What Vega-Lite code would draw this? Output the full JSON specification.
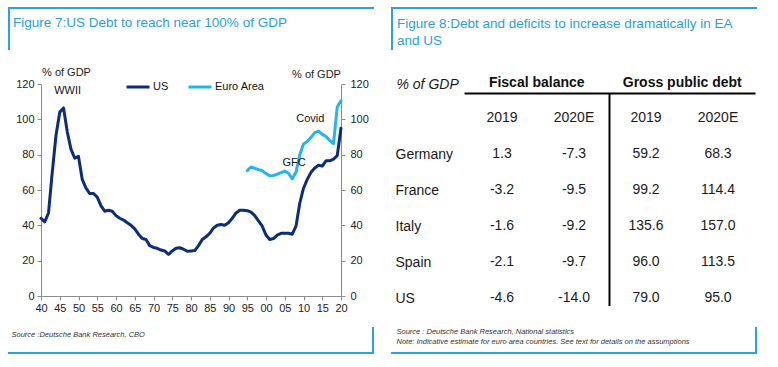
{
  "$schema": "https://vega.github.io/schema/vega-lite/v6.json",
  "padding": {"left": 7, "top": 6, "right": 0, "bottom": 0},
  "spacing": 15,
  "config": {
    "font": "Liberation Sans",
    "view": {"stroke": null},
    "locale": {"number": {"decimal": ".", "thousands": ",", "grouping": [3], "currency": ["$", ""], "minus": "-"}}
  },
  "datasets": {
    "debt": [
      {"year": 1940, "series": "US", "value": 44}, {"year": 1941, "series": "US", "value": 42}, {"year": 1942, "series": "US", "value": 47}, {"year": 1943, "series": "US", "value": 70}, {"year": 1944, "series": "US", "value": 91}, {"year": 1945, "series": "US", "value": 104}, {"year": 1946, "series": "US", "value": 106.5}, {"year": 1947, "series": "US", "value": 93}, {"year": 1948, "series": "US", "value": 83}, {"year": 1949, "series": "US", "value": 78}, {"year": 1950, "series": "US", "value": 79}, {"year": 1951, "series": "US", "value": 66}, {"year": 1952, "series": "US", "value": 61}, {"year": 1953, "series": "US", "value": 58}, {"year": 1954, "series": "US", "value": 58}, {"year": 1955, "series": "US", "value": 56}, {"year": 1956, "series": "US", "value": 51}, {"year": 1957, "series": "US", "value": 48}, {"year": 1958, "series": "US", "value": 48.5}, {"year": 1959, "series": "US", "value": 48}, {"year": 1960, "series": "US", "value": 45.5}, {"year": 1961, "series": "US", "value": 44}, {"year": 1962, "series": "US", "value": 43}, {"year": 1963, "series": "US", "value": 41.5}, {"year": 1964, "series": "US", "value": 40}, {"year": 1965, "series": "US", "value": 38}, {"year": 1966, "series": "US", "value": 35}, {"year": 1967, "series": "US", "value": 32.5}, {"year": 1968, "series": "US", "value": 32}, {"year": 1969, "series": "US", "value": 28.5}, {"year": 1970, "series": "US", "value": 27.5}, {"year": 1971, "series": "US", "value": 27}, {"year": 1972, "series": "US", "value": 26}, {"year": 1973, "series": "US", "value": 25.5}, {"year": 1974, "series": "US", "value": 23.5}, {"year": 1975, "series": "US", "value": 25.5}, {"year": 1976, "series": "US", "value": 27}, {"year": 1977, "series": "US", "value": 27.3}, {"year": 1978, "series": "US", "value": 26.5}, {"year": 1979, "series": "US", "value": 25.3}, {"year": 1980, "series": "US", "value": 25.5}, {"year": 1981, "series": "US", "value": 25.7}, {"year": 1982, "series": "US", "value": 28.5}, {"year": 1983, "series": "US", "value": 32}, {"year": 1984, "series": "US", "value": 33.5}, {"year": 1985, "series": "US", "value": 35.5}, {"year": 1986, "series": "US", "value": 38.5}, {"year": 1987, "series": "US", "value": 40}, {"year": 1988, "series": "US", "value": 40.5}, {"year": 1989, "series": "US", "value": 40}, {"year": 1990, "series": "US", "value": 41.5}, {"year": 1991, "series": "US", "value": 44}, {"year": 1992, "series": "US", "value": 47}, {"year": 1993, "series": "US", "value": 48.5}, {"year": 1994, "series": "US", "value": 48.5}, {"year": 1995, "series": "US", "value": 48.3}, {"year": 1996, "series": "US", "value": 47.5}, {"year": 1997, "series": "US", "value": 45.5}, {"year": 1998, "series": "US", "value": 42.5}, {"year": 1999, "series": "US", "value": 39.5}, {"year": 2000, "series": "US", "value": 34.5}, {"year": 2001, "series": "US", "value": 32}, {"year": 2002, "series": "US", "value": 32.5}, {"year": 2003, "series": "US", "value": 34.5}, {"year": 2004, "series": "US", "value": 35.5}, {"year": 2005, "series": "US", "value": 35.5}, {"year": 2006, "series": "US", "value": 35.5}, {"year": 2007, "series": "US", "value": 35}, {"year": 2008, "series": "US", "value": 39.5}, {"year": 2009, "series": "US", "value": 52.5}, {"year": 2010, "series": "US", "value": 61}, {"year": 2011, "series": "US", "value": 66}, {"year": 2012, "series": "US", "value": 70}, {"year": 2013, "series": "US", "value": 72.5}, {"year": 2014, "series": "US", "value": 74}, {"year": 2015, "series": "US", "value": 73.5}, {"year": 2016, "series": "US", "value": 76.5}, {"year": 2017, "series": "US", "value": 76.5}, {"year": 2018, "series": "US", "value": 77.5}, {"year": 2019, "series": "US", "value": 79.5}, {"year": 2020, "series": "US", "value": 95},
      {"year": 1995, "series": "Euro Area", "value": 71}, {"year": 1996, "series": "Euro Area", "value": 73}, {"year": 1997, "series": "Euro Area", "value": 72.3}, {"year": 1998, "series": "Euro Area", "value": 71.5}, {"year": 1999, "series": "Euro Area", "value": 71}, {"year": 2000, "series": "Euro Area", "value": 69.3}, {"year": 2001, "series": "Euro Area", "value": 68}, {"year": 2002, "series": "Euro Area", "value": 68.2}, {"year": 2003, "series": "Euro Area", "value": 69}, {"year": 2004, "series": "Euro Area", "value": 69.8}, {"year": 2005, "series": "Euro Area", "value": 70.7}, {"year": 2006, "series": "Euro Area", "value": 69.5}, {"year": 2007, "series": "Euro Area", "value": 66.3}, {"year": 2008, "series": "Euro Area", "value": 70}, {"year": 2009, "series": "Euro Area", "value": 80}, {"year": 2010, "series": "Euro Area", "value": 86}, {"year": 2011, "series": "Euro Area", "value": 87.5}, {"year": 2012, "series": "Euro Area", "value": 89.8}, {"year": 2013, "series": "Euro Area", "value": 92.5}, {"year": 2014, "series": "Euro Area", "value": 93.3}, {"year": 2015, "series": "Euro Area", "value": 91.5}, {"year": 2016, "series": "Euro Area", "value": 90.3}, {"year": 2017, "series": "Euro Area", "value": 88}, {"year": 2018, "series": "Euro Area", "value": 86.3}, {"year": 2019, "series": "Euro Area", "value": 107}, {"year": 2020, "series": "Euro Area", "value": 110.5}
    ],
    "notes": [
      {"label": "WWII", "year": 1947.1, "value": 116},
      {"label": "GFC", "year": 2007.5, "value": 75.5},
      {"label": "Covid", "year": 2011.8, "value": 100}
    ],
    "table": [
      {"country": "Germany", "col": "FB 2019", "value": 1.3}, {"country": "Germany", "col": "FB 2020E", "value": -7.3}, {"country": "Germany", "col": "GD 2019", "value": 59.2}, {"country": "Germany", "col": "GD 2020E", "value": 68.3},
      {"country": "France", "col": "FB 2019", "value": -3.2}, {"country": "France", "col": "FB 2020E", "value": -9.5}, {"country": "France", "col": "GD 2019", "value": 99.2}, {"country": "France", "col": "GD 2020E", "value": 114.4},
      {"country": "Italy", "col": "FB 2019", "value": -1.6}, {"country": "Italy", "col": "FB 2020E", "value": -9.2}, {"country": "Italy", "col": "GD 2019", "value": 135.6}, {"country": "Italy", "col": "GD 2020E", "value": 157.0},
      {"country": "Spain", "col": "FB 2019", "value": -2.1}, {"country": "Spain", "col": "FB 2020E", "value": -9.7}, {"country": "Spain", "col": "GD 2019", "value": 96.0}, {"country": "Spain", "col": "GD 2020E", "value": 113.5},
      {"country": "US", "col": "FB 2019", "value": -4.6}, {"country": "US", "col": "FB 2020E", "value": -14.0}, {"country": "US", "col": "GD 2019", "value": 79.0}, {"country": "US", "col": "GD 2020E", "value": 95.0}
    ],
    "cols": [
      {"col": "FB 2019", "label": "2019"}, {"col": "FB 2020E", "label": "2020E"}, {"col": "GD 2019", "label": "2019"}, {"col": "GD 2020E", "label": "2020E"}
    ],
    "groups": [
      {"group": "Fiscal balance"}, {"group": "Gross public debt"}
    ]
  },
  "hconcat": [
    {
      "width": 300,
      "height": 212,
      "title": {"text": "Figure 7:US Debt to reach near 100% of GDP", "anchor": "start", "frame": "group", "dx": -28, "offset": -34, "baseline": "alphabetic", "fontSize": 13.5, "fontWeight": "normal", "color": "#2a9fd8"},
      "layer": [
        {
          "data": {"name": "debt"},
          "mark": {"type": "line", "strokeWidth": 3, "strokeJoin": "round", "strokeCap": "round"},
          "encoding": {
            "x": {"field": "year", "type": "quantitative", "scale": {"domain": [1940, 2020], "nice": false, "zero": false},
              "axis": {"values": [1940, 1945, 1950, 1955, 1960, 1965, 1970, 1975, 1980, 1985, 1990, 1995, 2000, 2005, 2010, 2015, 2020], "format": "d", "labelExpr": "slice(datum.label, 2)", "labelFlush": false, "labelOverlap": false, "grid": false, "domainColor": "#8c8c8c", "tickColor": "#8c8c8c", "tickSize": 4, "labelPadding": 2, "labelFontSize": 11, "labelColor": "#222222", "labelAngle": 0,
                "title": "Source :Deutsche Bank Research, CBO", "titleFontStyle": "italic", "titleFontSize": 7.5, "titleFontWeight": "normal", "titleColor": "#333333", "titleAlign": "left", "titleAnchor": "start", "titleX": -30, "titleY": 38, "titleBaseline": "middle"}},
            "y": {"field": "value", "type": "quantitative", "scale": {"domain": [0, 120], "nice": false},
              "axis": {"orient": "left", "values": [0, 20, 40, 60, 80, 100, 120], "grid": false, "domainColor": "#8c8c8c", "tickColor": "#8c8c8c", "tickSize": 4, "labelPadding": 3, "labelFontSize": 11, "labelColor": "#222222",
                "title": "% of GDP", "titleAngle": 0, "titleX": 25, "titleY": -9, "titleAlign": "center", "titleBaseline": "alphabetic", "titleFontSize": 11, "titleFontWeight": "normal", "titleColor": "#222222"}},
            "color": {"field": "series", "type": "nominal", "scale": {"domain": ["US", "Euro Area"], "range": ["#0c2d79", "#22b5ee"]},
              "legend": {"orient": "none", "legendX": 84, "legendY": -10, "direction": "horizontal", "title": null, "symbolType": "stroke", "symbolStrokeWidth": 3, "symbolSize": 529, "labelFontSize": 11, "labelColor": "#111111", "labelOffset": 2, "columnPadding": 13}}
          }
        },
        {
          "data": {"name": "notes"},
          "mark": {"type": "text", "fontSize": 11, "color": "#111111", "align": "center", "baseline": "middle"},
          "encoding": {
            "x": {"field": "year", "type": "quantitative", "scale": {"domain": [1940, 2020], "nice": false, "zero": false},
              "axis": {"values": [1940, 1945, 1950, 1955, 1960, 1965, 1970, 1975, 1980, 1985, 1990, 1995, 2000, 2005, 2010, 2015, 2020], "format": "d", "labelExpr": "slice(datum.label, 2)", "labelFlush": false, "labelOverlap": false, "grid": false, "domainColor": "#8c8c8c", "tickColor": "#8c8c8c", "tickSize": 4, "labelPadding": 2, "labelFontSize": 11, "labelColor": "#222222", "labelAngle": 0,
                "title": "Source :Deutsche Bank Research, CBO", "titleFontStyle": "italic", "titleFontSize": 7.5, "titleFontWeight": "normal", "titleColor": "#333333", "titleAlign": "left", "titleAnchor": "start", "titleX": -30, "titleY": 38, "titleBaseline": "middle"}},
            "y": {"field": "value", "type": "quantitative", "scale": {"domain": [0, 120], "nice": false},
              "axis": {"orient": "right", "values": [0, 20, 40, 60, 80, 100, 120], "grid": false, "domainColor": "#8c8c8c", "tickColor": "#8c8c8c", "tickSize": 4, "labelPadding": 5, "labelFontSize": 11, "labelColor": "#222222",
                "title": "% of GDP", "titleAngle": 0, "titleX": -25, "titleY": -7, "titleAlign": "center", "titleBaseline": "alphabetic", "titleFontSize": 11, "titleFontWeight": "normal", "titleColor": "#222222"}},
            "text": {"field": "label"}
          }
        },
        {"data": {"values": [{}]}, "mark": {"type": "rule", "color": "#2aa3dc", "strokeWidth": 2, "strokeCap": "square"}, "encoding": {"x": {"value": -32}, "x2": {"value": 332}, "y": {"value": -76}}},
        {"data": {"values": [{}]}, "mark": {"type": "rule", "color": "#2aa3dc", "strokeWidth": 2, "strokeCap": "square"}, "encoding": {"x": {"value": -32}, "y": {"value": -76}, "y2": {"value": -35}}},
        {"data": {"values": [{}]}, "mark": {"type": "rule", "color": "#2aa3dc", "strokeWidth": 2, "strokeCap": "square"}, "encoding": {"x": {"value": -32}, "x2": {"value": 332}, "y": {"value": 269}}},
        {"data": {"values": [{}]}, "mark": {"type": "rule", "color": "#2aa3dc", "strokeWidth": 2, "strokeCap": "square"}, "encoding": {"x": {"value": 332}, "y": {"value": 244}, "y2": {"value": 269}}}
      ],
      "resolve": {"scale": {"y": "independent"}}
    },
    {
      "width": 291,
      "height": 222,
      "title": {"text": ["Figure 8:Debt and deficits to increase dramatically in EA", "and US"], "anchor": "start", "frame": "group", "dx": -67, "offset": -52, "baseline": "alphabetic", "lineHeight": 17, "fontSize": 13.5, "fontWeight": "normal", "color": "#2a9fd8"},
      "layer": [
        {
          "data": {"name": "table"},
          "mark": {"type": "text", "fontSize": 14, "color": "#1a1a1a", "align": "center", "baseline": "middle"},
          "encoding": {
            "x": {"field": "col", "type": "nominal", "scale": {"type": "point", "domain": ["FB 2019", "FB 2020E", "GD 2019", "GD 2020E"], "range": [38, 254], "padding": 0},
              "axis": {"orient": "bottom", "domain": false, "ticks": false, "labels": false, "grid": false,
                "title": ["Source : Deutsche Bank Research, National statistics", "Note: Indicative estimate for euro area countries. See text for details on the assumptions"],
                "titleFontStyle": "italic", "titleFontSize": 7.5, "titleFontWeight": "normal", "titleColor": "#333333", "titleAlign": "left", "titleAnchor": "start", "titleX": -68, "titleY": 21, "titleBaseline": "top", "titleLineHeight": 10}},
            "y": {"field": "country", "type": "nominal", "scale": {"type": "point", "domain": ["hdr", "Germany", "France", "Italy", "Spain", "US"], "range": [34, 214], "padding": 0},
              "axis": {"orient": "left", "domain": false, "ticks": false, "tickSize": 0, "grid": false, "labelPadding": 69, "labelAlign": "left", "labelBaseline": "middle", "labelFontSize": 14, "labelColor": "#1a1a1a", "labelExpr": "datum.value == 'hdr' ? '' : datum.label",
                "title": "% of GDP", "titleFontStyle": "italic", "titleFontSize": 14, "titleFontWeight": "normal", "titleColor": "#1a1a1a", "titleAngle": 0, "titleAlign": "left", "titleBaseline": "alphabetic", "titleX": -68, "titleY": 4}},
            "text": {"field": "value", "type": "quantitative", "format": ".1f"}
          }
        },
        {
          "data": {"name": "cols"},
          "mark": {"type": "text", "fontSize": 14, "color": "#1a1a1a", "align": "center", "baseline": "middle"},
          "encoding": {
            "x": {"field": "col", "type": "nominal", "scale": {"type": "point", "domain": ["FB 2019", "FB 2020E", "GD 2019", "GD 2020E"], "range": [38, 254], "padding": 0}, "axis": null},
            "y": {"datum": "hdr", "type": "nominal", "scale": {"type": "point", "domain": ["hdr", "Germany", "France", "Italy", "Spain", "US"], "range": [34, 214], "padding": 0}},
            "text": {"field": "label"}
          }
        },
        {
          "data": {"name": "groups"},
          "transform": [{"filter": "datum.group == 'Gross public debt'"}],
          "mark": {"type": "rule", "color": "#000000", "strokeWidth": 2},
          "encoding": {
            "x": {"field": "group", "type": "nominal", "bandPosition": 0, "scale": {"type": "band", "domain": ["Fiscal balance", "Gross public debt"], "paddingInner": 0, "paddingOuter": 0},
              "axis": {"orient": "top", "offset": -9, "domainColor": "#000000", "domainWidth": 2, "ticks": false, "tickSize": 0, "grid": false, "labelAngle": 0, "labelFontSize": 14, "labelFontWeight": "bold", "labelColor": "#111111", "labelPadding": 4, "title": null}},
            "y": {"value": 9},
            "y2": {"value": 222}
          }
        },
        {"data": {"values": [{}]}, "mark": {"type": "rule", "color": "#2aa3dc", "strokeWidth": 2, "strokeCap": "square"}, "encoding": {"x": {"value": -72}, "x2": {"value": 292}, "y": {"value": -76}}},
        {"data": {"values": [{}]}, "mark": {"type": "rule", "color": "#2aa3dc", "strokeWidth": 2, "strokeCap": "square"}, "encoding": {"x": {"value": -72}, "y": {"value": -76}, "y2": {"value": -35}}},
        {"data": {"values": [{}]}, "mark": {"type": "rule", "color": "#2aa3dc", "strokeWidth": 2, "strokeCap": "square"}, "encoding": {"x": {"value": -72}, "x2": {"value": 292}, "y": {"value": 269}}},
        {"data": {"values": [{}]}, "mark": {"type": "rule", "color": "#2aa3dc", "strokeWidth": 2, "strokeCap": "square"}, "encoding": {"x": {"value": 292}, "y": {"value": 244}, "y2": {"value": 269}}}
      ],
      "resolve": {"scale": {"x": "independent"}}
    }
  ]
}
